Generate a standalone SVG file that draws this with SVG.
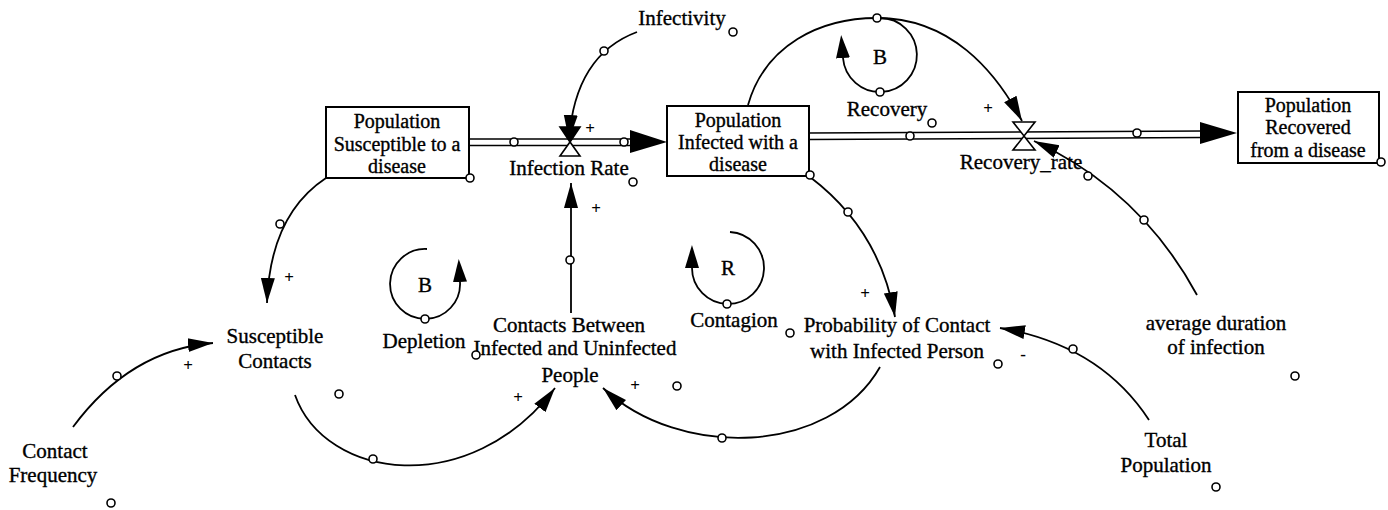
<svg xmlns="http://www.w3.org/2000/svg" width="1388" height="510" viewBox="0 0 1388 510">
<style>
text{font-family:"Liberation Serif","Times New Roman",serif;font-size:21px;fill:#000;text-anchor:middle;stroke:#000;stroke-width:0.35}
.bx{font-size:20px}
.sign{font-size:17px;stroke:none;font-weight:bold}
.lk{fill:none;stroke:#000;stroke-width:1.8}
.pipe{fill:none;stroke:#000;stroke-width:1.6}
.box{fill:#fff;stroke:#000;stroke-width:2}
.c{fill:#fff;stroke:#000;stroke-width:1.6}
.valve{fill:#fff;stroke:#000;stroke-width:1.6;stroke-linejoin:miter}
</style>
<defs>
<marker id="ah" markerUnits="userSpaceOnUse" markerWidth="26" markerHeight="16" refX="25" refY="8" orient="auto"><path d="M0,1 L25,8 L0,15 Z" fill="#000"/></marker>
<marker id="la" markerUnits="userSpaceOnUse" markerWidth="24" markerHeight="16" refX="0" refY="8" orient="auto"><path d="M0,1 L23,8 L0,15 Z" fill="#000"/></marker>
</defs>
<rect width="1388" height="510" fill="#fff"/>

<g id="connectors">
<path class="pipe" d="M469,139 L634,139 M469,145.5 L634,145.5"/>
<polygon points="630,130 667,142 630,153" fill="#000"/>
<path class="pipe" d="M809,133 L1203,131 M809,139.5 L1203,137.5"/>
<polygon points="1200,122 1237,133 1200,144" fill="#000"/>
<path class="lk" d="M637,32 Q575,55 569,140" marker-end="url(#ah)"/>
<path class="lk" d="M748,105 C765,45 820,18 877,18 C950,18 995,70 1022,121" marker-end="url(#ah)"/>
<path class="lk" d="M1197,295 Q1140,190 1034,141" marker-end="url(#ah)"/>
<path class="lk" d="M571,313 L571,183" marker-end="url(#ah)"/>
<path class="lk" d="M326,178 Q270,215 267,303" marker-end="url(#ah)"/>
<path class="lk" d="M73,427 Q130,350 213,343" marker-end="url(#ah)"/>
<path class="lk" d="M295,395 C325,480 470,500 555,388" marker-end="url(#ah)"/>
<path class="lk" d="M880,367 C830,455 680,460 603,388" marker-end="url(#ah)"/>
<path class="lk" d="M810,177 Q880,230 895,317" marker-end="url(#ah)"/>
<path class="lk" d="M1149,420 Q1100,345 1000,328" marker-end="url(#ah)"/>
<circle class="c" cx="514" cy="142" r="4"/>
<circle class="c" cx="624" cy="142" r="4"/>
<circle class="c" cx="910" cy="136" r="4"/>
<circle class="c" cx="1137" cy="133" r="4"/>
<circle class="c" cx="604" cy="51" r="4"/>
<circle class="c" cx="877" cy="18" r="4"/>
<circle class="c" cx="1144" cy="220" r="4"/>
<circle class="c" cx="1088" cy="176" r="4"/>
<circle class="c" cx="848" cy="212" r="4"/>
<circle class="c" cx="280" cy="224" r="4"/>
<circle class="c" cx="570" cy="260" r="4"/>
<circle class="c" cx="117" cy="376" r="4"/>
<circle class="c" cx="373" cy="459" r="4"/>
<circle class="c" cx="722" cy="438" r="4"/>
<circle class="c" cx="1073" cy="349" r="4"/>
<text class="sign" x="590" y="134">+</text>
<text class="sign" x="988" y="114">+</text>
<text class="sign" x="596" y="214">+</text>
<text class="sign" x="289" y="283">+</text>
<text class="sign" x="188" y="371">+</text>
<text class="sign" x="518" y="403">+</text>
<text class="sign" x="635" y="391">+</text>
<text class="sign" x="865" y="299">+</text>
<text class="sign" x="1023" y="360">-</text>
</g>

<g id="susceptible">
<rect class="box" x="326" y="107" width="143" height="71"/>
<text class="bx" x="397" y="128">Population</text>
<text class="bx" x="397" y="151">Susceptible to a</text>
<text class="bx" x="397" y="173">disease</text>
<circle class="c" cx="470" cy="178" r="4"/>
</g>

<g id="infected">
<rect class="box" x="667" y="106" width="142" height="70"/>
<text class="bx" x="738" y="127">Population</text>
<text class="bx" x="738" y="149">Infected with a</text>
<text class="bx" x="738" y="171">disease</text>
<circle class="c" cx="810" cy="175" r="4"/>
</g>

<g id="recovered">
<rect class="box" x="1238" y="92" width="141" height="71"/>
<text class="bx" x="1308" y="112">Population</text>
<text class="bx" x="1308" y="134">Recovered</text>
<text class="bx" x="1308" y="157">from a disease</text>
<circle class="c" cx="1381" cy="162" r="4"/>
</g>

<g id="infection-rate">
<polygon class="valve" points="560,127 580,127 570,142" style="fill:#000"/>
<polygon class="valve" points="560,156 580,156 570,142"/>
<text x="569" y="175">Infection Rate</text>
<circle class="c" cx="633" cy="182" r="4"/>
</g>

<g id="recovery-rate">
<polygon class="valve" points="1013,122 1035,122 1024,136"/>
<polygon class="valve" points="1013,150 1035,150 1024,136"/>
<text x="1021" y="169">Recovery_rate</text>
</g>

<g id="infectivity">
<text x="682" y="25">Infectivity</text>
<circle class="c" cx="733" cy="32" r="4"/>
</g>

<g id="recovery-loop">
<path class="lk" d="M880,18 A37,37 0 1 1 843,58" marker-end="url(#la)"/>
<circle class="c" cx="880" cy="92" r="4"/>
<text x="880" y="64">B</text>
<text x="887" y="116">Recovery</text>
<circle class="c" cx="932" cy="123" r="4"/>
</g>

<g id="depletion-loop">
<path class="lk" d="M427,249 A35,35 0 1 0 460,282" marker-end="url(#la)"/>
<circle class="c" cx="425" cy="319" r="4"/>
<text x="425" y="292">B</text>
<text x="424" y="348">Depletion</text>
</g>

<g id="contagion-loop">
<path class="lk" d="M730,232 A36,36 0 1 1 692,268" marker-end="url(#la)"/>
<circle class="c" cx="727" cy="304" r="4"/>
<text x="728" y="275">R</text>
<text x="734" y="327">Contagion</text>
<circle class="c" cx="790" cy="333" r="4"/>
</g>

<g id="susceptible-contacts">
<text x="275" y="343">Susceptible</text>
<text x="275" y="368">Contacts</text>
<circle class="c" cx="339" cy="394" r="4"/>
</g>

<g id="contacts-between">
<text x="569" y="332">Contacts Between</text>
<text x="575" y="355">Infected and Uninfected</text>
<text x="570" y="382">People</text>
<circle class="c" cx="677" cy="386" r="4"/>
</g>
<circle class="c" cx="476" cy="355" r="4"/>

<g id="probability">
<text x="897" y="332">Probability of Contact</text>
<text x="897" y="358">with Infected Person</text>
<circle class="c" cx="998" cy="364" r="4"/>
</g>

<g id="avg-duration">
<text x="1216" y="330">average duration</text>
<text x="1216" y="354">of infection</text>
<circle class="c" cx="1295" cy="376" r="4"/>
</g>

<g id="total-population">
<text x="1166" y="447">Total</text>
<text x="1166" y="472">Population</text>
<circle class="c" cx="1216" cy="487" r="4"/>
</g>

<g id="contact-frequency">
<text x="55" y="458">Contact</text>
<text x="53" y="482">Frequency</text>
<circle class="c" cx="111" cy="503" r="4"/>
</g>
</svg>
